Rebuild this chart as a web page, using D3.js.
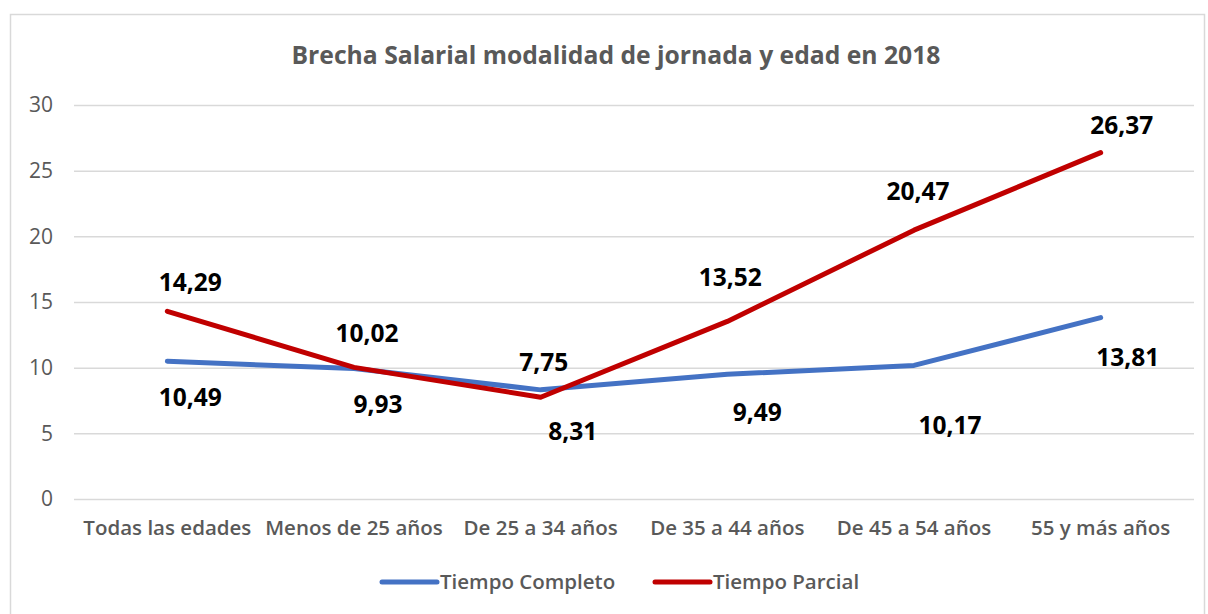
<!DOCTYPE html>
<html>
<head>
<meta charset="utf-8">
<script src="https://cdn.jsdelivr.net/npm/d3@7"></script>
<style>
  body { margin: 0; background: #fff; }
  svg { font-family: "Open Sans", sans-serif; }
</style>
</head>
<body>
<div id="chart"></div>
<script>
// data
let categories = ["Todas las edades", "Menos de 25 años", "De 25 a 34 años", "De 35 a 44 años", "De 45 a 54 años", "55 y más años"];
let tiempoCompleto = [10.49, 9.93, 8.31, 9.49, 10.17, 13.81];
let tiempoParcial = [14.29, 10.02, 7.75, 13.52, 20.47, 26.37];
let yTicks = [0, 5, 10, 15, 20, 25, 30];

// label nudges (Excel placed these by hand)
let nudgeCompleto = [[23, 36], [24, 36], [32, 42], [30, 38], [36, 60], [27, 40]];
let nudgeParcial = [[23, -29], [13, -34], [3, -35], [3, -44], [4, -39], [21, -27]];

let width = 1208, height = 614;
let margin = { top: 105, right: 14, bottom: 115, left: 74 };

let svg = d3.select("#chart").append("svg")
    .attr("width", width)
    .attr("height", height);

// frame
svg.append("rect")
    .attr("x", 10.5).attr("y", 14.5)
    .attr("width", 1194).attr("height", 620)
    .attr("fill", "#fff")
    .attr("stroke", "#d9d9d9")
    .attr("stroke-width", 1.5);

svg.append("text")
    .attr("x", 616).attr("y", 64)
    .attr("text-anchor", "middle")
    .attr("font-size", "24.7px")
    .attr("font-weight", "bold")
    .attr("fill", "#595959")
    .text("Brecha Salarial modalidad de jornada y edad en 2018");

let x = d3.scaleBand()
    .domain(categories)
    .range([margin.left, width - margin.right]);

let y = d3.scaleLinear()
    .domain([0, 30])
    .range([height - margin.bottom, margin.top]);

// grid + y labels
let yAxis = svg.append("g")
    .attr("transform", `translate(${margin.left},0)`)
    .call(d3.axisLeft(y).tickValues(yTicks).tickSize(-(width - margin.left - margin.right)).tickPadding(21));
yAxis.select(".domain").remove();
yAxis.selectAll(".tick line").attr("stroke", "#d9d9d9").attr("stroke-width", 1.5);
yAxis.selectAll(".tick text")
    .attr("font-size", "21px")
    .attr("font-family", "'Open Sans', sans-serif")
    .attr("fill", "#595959");

// x labels
let xAxis = svg.append("g")
    .attr("transform", `translate(0,${height - margin.bottom})`)
    .call(d3.axisBottom(x).tickSize(0).tickPadding(21));
xAxis.select(".domain").remove();
xAxis.selectAll(".tick text")
    .attr("font-size", "20.5px")
    .attr("font-weight", "600")
    .attr("font-family", "'Open Sans', sans-serif")
    .attr("fill", "#595959");

let line = d3.line()
    .x((d, i) => x(categories[i]) + x.bandwidth() / 2)
    .y(d => y(d));

let series = [
    { name: "Tiempo Completo", values: tiempoCompleto, color: "#4472C4", nudge: nudgeCompleto },
    { name: "Tiempo Parcial", values: tiempoParcial, color: "#C00000", nudge: nudgeParcial }
];

series.forEach(s => {
    svg.append("path")
        .datum(s.values)
        .attr("fill", "none")
        .attr("stroke", s.color)
        .attr("stroke-width", 5)
        .attr("stroke-linecap", "round")
        .attr("stroke-linejoin", "round")
        .attr("d", line);
});

series.forEach(s => {
    svg.selectAll(null)
        .data(s.values)
        .enter()
        .append("text")
        .attr("x", (d, i) => x(categories[i]) + x.bandwidth() / 2 + s.nudge[i][0])
        .attr("y", (d, i) => y(d) + s.nudge[i][1])
        .attr("dy", "0.35em")
        .attr("text-anchor", "middle")
        .attr("font-size", "24.5px")
        .attr("font-weight", "bold")
        .attr("fill", "#000")
        .text(d => d.toFixed(2).replace(".", ","));
});

// legend
let legend = svg.append("g").attr("transform", "translate(380,582)");
let legendX = [0, 273];
series.forEach((s, i) => {
    let g = legend.append("g").attr("transform", `translate(${legendX[i]},0)`);
    g.append("line")
        .attr("x1", 2).attr("x2", 57)
        .attr("stroke", s.color)
        .attr("stroke-width", 5)
        .attr("stroke-linecap", "round");
    g.append("text")
        .attr("x", 60)
        .attr("dy", "0.35em")
        .attr("font-size", "20.5px")
        .attr("font-weight", "600")
        .attr("fill", "#595959")
        .text(s.name);
});
</script>
</body>
</html>
